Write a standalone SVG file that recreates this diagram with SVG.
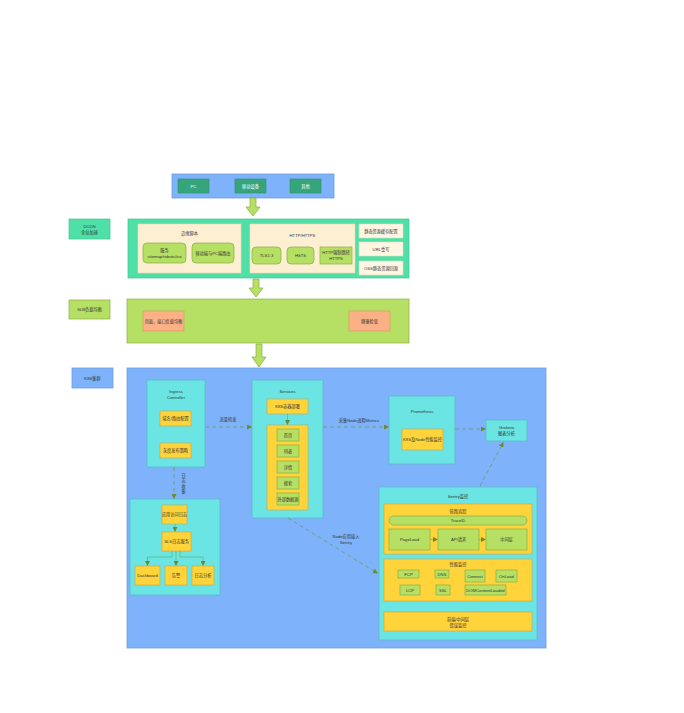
<svg xmlns="http://www.w3.org/2000/svg" width="684" height="713" viewBox="0 0 684 713">
<style>
text{font-family:"Liberation Sans","Noto Sans CJK SC",sans-serif;font-size:4.2px;fill:#333;text-anchor:middle;dominant-baseline:central}
.w{fill:#fff}
.blue{fill:#7eb2fa;stroke:#6c9be0;stroke-width:0.8}
.cyan{fill:#6ae5e3;stroke:#5fb8c8;stroke-width:0.8}
.yel{fill:#ffd43b;stroke:#c9ab4e;stroke-width:0.7}
.grn{fill:#b6e063;stroke:#8aab45;stroke-width:0.7}
.mint{fill:#4ee0a6;stroke:#45c393;stroke-width:0.7}
.cream{fill:#fdf0d2;stroke:#e8dcb8;stroke-width:0.6}
.sal{fill:#fbb185;stroke:#d99a62;stroke-width:0.7}
.dk{fill:#37a57c;stroke:#2e8f6a;stroke-width:0.6}
.dash{fill:none;stroke:#6b9a6a;stroke-width:0.8;stroke-dasharray:4 3}
.ln{fill:none;stroke:#6aa55a;stroke-width:0.6}
.barrow{fill:#b6e063;stroke:#8aab45;stroke-width:0.7}
</style>
<defs>
<marker id="ah" markerWidth="5" markerHeight="5" refX="4" refY="2.5" orient="auto" markerUnits="userSpaceOnUse"><path d="M0,0 L5,2.5 L0,5 Z" fill="#6b8a2a"/></marker>
</defs>
<rect width="684" height="713" fill="#fff"/>

<g id="clients">
<rect x="172" y="174" width="162" height="24" class="blue"/>
<rect x="178" y="179" width="31" height="14" class="dk"/><text x="193.5" y="186" class="w">PC</text>
<rect x="235" y="179" width="31" height="14" class="dk"/><text x="250.5" y="186" class="w">移动设备</text>
<rect x="290" y="179" width="31" height="14" class="dk"/><text x="305.5" y="186" class="w">其他</text>
</g>

<g id="arrows-block">
<polygon points="250,198 256,198 256,207 260,207 253,216 246,207 250,207" class="barrow"/>
<polygon points="253,279 259,279 259,288 263,288 256,297 249,288 253,288" class="barrow"/>
<polygon points="256,344 262,344 262,357 266,357 259,367 252,357 256,357" class="barrow"/>
</g>

<g id="dcdn-label">
<rect x="69" y="219" width="41" height="20" class="mint"/>
<text x="89.5" y="226.5">DCDN</text><text x="89.5" y="232.5">全站加速</text>
</g>

<g id="dcdn">
<rect x="128" y="219" width="281" height="59" class="mint"/>
<rect x="138" y="224" width="103" height="49" class="cream"/>
<text x="189.5" y="233">边缘脚本</text>
<rect x="143" y="243" width="43" height="20" rx="4" class="grn"/><text x="164.5" y="250.5">服务</text><text x="164.5" y="256">sitemap/robots/ico</text>
<rect x="192" y="243" width="42" height="20" rx="4" class="grn"/><text x="213" y="253">移动端与PC端路由</text>
<rect x="250" y="224" width="105" height="49" class="cream"/>
<text x="302.5" y="235">HTTP/HTTPS</text>
<rect x="252" y="247" width="29" height="17" rx="4" class="grn"/><text x="266.5" y="255.5">TLS1.3</text>
<rect x="287" y="247" width="27" height="17" rx="4" class="grn"/><text x="300.5" y="255.5">HSTS</text>
<rect x="320" y="247" width="32" height="17" class="grn"/><text x="336" y="252.5">HTTP强制跳转</text><text x="336" y="258.5">HTTPS</text>
<rect x="359" y="224" width="44" height="14" class="cream" style="fill:#fff6e4"/><text x="381" y="231">静态资源缓存配置</text>
<rect x="359" y="242" width="44" height="14" class="cream" style="fill:#fff6e4"/><text x="381" y="249">URL重写</text>
<rect x="359" y="261" width="44" height="14" class="cream" style="fill:#fff6e4"/><text x="381" y="268">OSS静态资源回源</text>
</g>

<g id="slb-label">
<rect x="69" y="300" width="41" height="19" class="grn"/><text x="89.5" y="309.5">SLB负载均衡</text>
</g>

<g id="slb">
<rect x="127" y="299" width="282" height="44" class="grn"/>
<rect x="143" y="311" width="41" height="20" class="sal"/><text x="163.5" y="321">页面，接口负载均衡</text>
<rect x="349" y="311" width="41" height="20" class="sal"/><text x="369.5" y="321">健康检查</text>
</g>

<g id="k8s-label">
<rect x="72" y="368" width="41" height="20" class="blue"/><text x="92.5" y="378">K8S集群</text>
</g>

<g id="k8s">
<rect x="127" y="368" width="419" height="280" class="blue"/>
</g>

<g id="ingress">
<rect x="147" y="380" width="58" height="87" class="cyan"/>
<text x="176" y="391.5">Ingress</text><text x="176" y="397.5">Controller</text>
<rect x="160" y="411" width="31" height="15" class="yel"/><text x="175.5" y="418.5">域名/路由配置</text>
<rect x="160" y="443" width="31" height="15" class="yel"/><text x="175.5" y="450.5">灰度发布策略</text>
</g>

<g id="logs">
<rect x="130" y="499" width="90" height="96" class="cyan"/>
<rect x="162" y="505" width="25" height="19" class="yel"/><text x="174.5" y="514.5">应用访问日志</text>
<rect x="162" y="532" width="29" height="19" class="yel"/><text x="176.5" y="541.5">SLS日志服务</text>
<rect x="135" y="566" width="25" height="19" class="yel"/><text x="147.5" y="575.5">Dashboard</text>
<rect x="165" y="566" width="22" height="19" class="yel"/><text x="176" y="575.5">告警</text>
<rect x="192" y="566" width="22" height="19" class="yel"/><text x="203" y="575.5">日志分析</text>
</g>

<g id="services">
<rect x="252" y="380" width="71" height="138" class="cyan"/>
<text x="287.5" y="391">Services</text>
<rect x="267" y="399" width="41" height="15" class="yel"/><text x="287.5" y="406.5">K8S容器部署</text>
<rect x="267" y="425" width="41" height="85" class="yel"/>
<rect x="277" y="429" width="22" height="12" class="grn"/><text x="288" y="435">首页</text>
<rect x="277" y="445" width="22" height="12" class="grn"/><text x="288" y="451">列表</text>
<rect x="277" y="461" width="22" height="12" class="grn"/><text x="288" y="467">详情</text>
<rect x="277" y="477" width="22" height="12" class="grn"/><text x="288" y="483">搜索</text>
<rect x="277" y="493" width="22" height="12" class="grn"/><text x="288" y="499">外部数据源</text>
</g>

<g id="prometheus">
<rect x="389" y="396" width="66" height="68" class="cyan"/>
<text x="422" y="411">Prometheus</text>
<rect x="402" y="429" width="41" height="21" class="yel"/><text x="422.5" y="439.5">K8S及Node性能监控</text>
</g>

<g id="grafana">
<rect x="486" y="420" width="41" height="21" class="cyan"/>
<text x="506.5" y="427.5">Grafana</text><text x="506.5" y="433.5">图表分析</text>
</g>

<g id="sentry">
<rect x="379" y="487" width="158" height="153" class="cyan"/>
<text x="458" y="496">Sentry监控</text>
<rect x="384" y="504" width="148" height="50" class="yel"/>
<text x="458" y="511.5">链路追踪</text>
<rect x="389" y="516" width="138" height="9" rx="4.5" class="grn"/><text x="458" y="520.5">TraceID</text>
<rect x="389" y="529" width="41" height="21" class="grn"/><text x="409.5" y="539.5">PageLoad</text>
<rect x="438" y="529" width="41" height="21" class="grn"/><text x="458.5" y="539.5">API请求</text>
<rect x="486" y="529" width="41" height="21" class="grn"/><text x="506.5" y="539.5">中间层</text>
<rect x="384" y="559" width="148" height="42" class="yel"/>
<text x="458" y="564.5">性能监控</text>
<rect x="398" y="570" width="21" height="8" class="grn"/><text x="408.5" y="574">FCP</text>
<rect x="435" y="570" width="14" height="8" class="grn"/><text x="442" y="574">DNS</text>
<rect x="465" y="570" width="20" height="12" class="grn"/><text x="475" y="576">Connect</text>
<rect x="496" y="570" width="21" height="12" class="grn"/><text x="506.5" y="576">OnLoad</text>
<rect x="400" y="585" width="20" height="10" class="grn"/><text x="410" y="590">LCP</text>
<rect x="436" y="585" width="14" height="10" class="grn"/><text x="443" y="590">SSL</text>
<rect x="465" y="585" width="41" height="10" class="grn"/><text x="485.5" y="590">DOMContentLoaded</text>
<rect x="384" y="612" width="148" height="19" class="yel"/>
<text x="458" y="619">前端/中间层</text><text x="458" y="625">错误监控</text>
</g>

<g id="connectors">
<path d="M205,427 L251,427" class="dash" marker-end="url(#ah)"/>
<text x="228" y="419.5">流量转发</text>
<path d="M174,467 L174,498" class="dash" marker-end="url(#ah)"/>
<text x="183.5" y="475">日</text><text x="183.5" y="480.5">志</text><text x="183.5" y="486">收</text><text x="183.5" y="491.5">集</text>
<path d="M323,427 L388,427" class="dash" marker-end="url(#ah)"/>
<text x="359" y="420">采集Node进程Metrics</text>
<path d="M455,429 L485,429" class="dash" marker-end="url(#ah)"/>
<path d="M480,486 L503,443" class="dash" marker-end="url(#ah)"/>
<path d="M288,518 L377,573" class="dash" marker-end="url(#ah)"/>
<text x="346" y="536">Node应用接入</text><text x="346" y="542">Sentry</text>
<path d="M287.5,414 L287.5,424" class="ln" marker-end="url(#ah)"/>
<path d="M175,524 L175,531" class="ln" marker-end="url(#ah)"/>
<path d="M172,551 L172,557 L147.5,557 L147.5,565" class="ln" marker-end="url(#ah)"/>
<path d="M176,551 L176,565" class="ln" marker-end="url(#ah)"/>
<path d="M180,551 L180,557 L203,557 L203,565" class="ln" marker-end="url(#ah)"/>
<path d="M430,539.5 L437,539.5" class="ln" marker-end="url(#ah)"/>
<path d="M479,539.5 L485,539.5" class="ln" marker-end="url(#ah)"/>
</g>
</svg>
